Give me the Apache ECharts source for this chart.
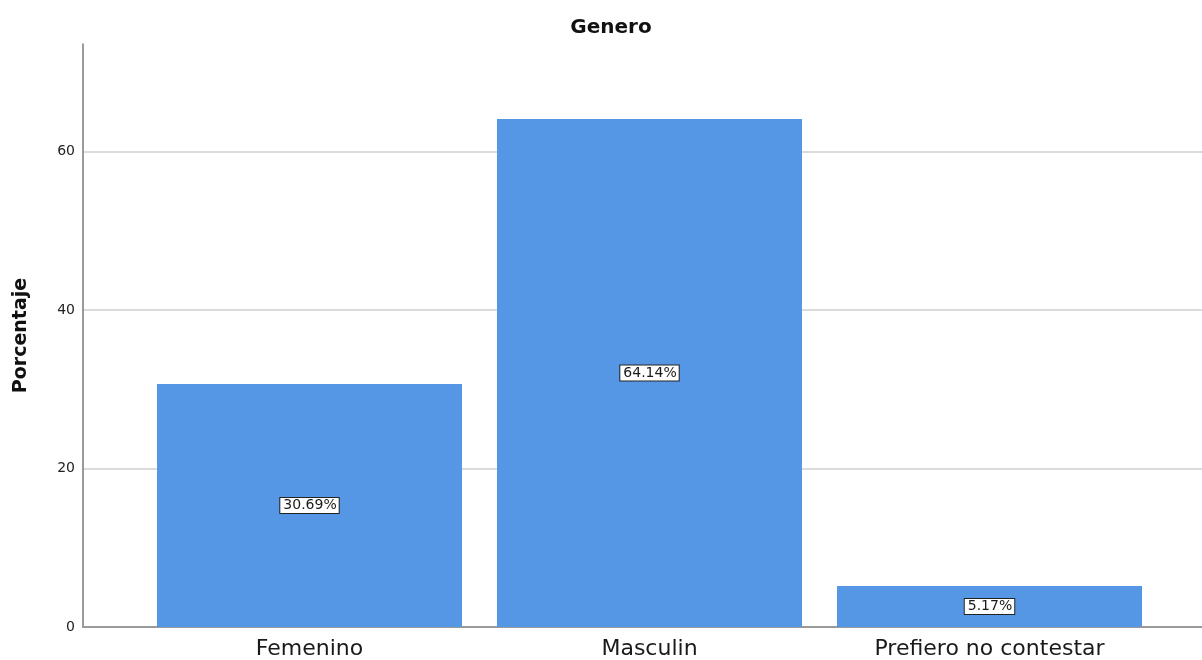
<!DOCTYPE html>
<html>
<head>
<meta charset="utf-8">
<script src="https://cdn.jsdelivr.net/npm/echarts@6/dist/echarts.min.js"></script>
<style>
  html, body { margin: 0; padding: 0; background: #fff; }
  #chart { width: 1202px; height: 660px; }
</style>
</head>
<body>
<div id="chart"></div>
<script>
// Gender breakdown (percent of respondents)
const categories = ['Femenino', 'Masculin', 'Prefiero no contestar'];
const percentages = [30.69, 64.14, 5.17];
const yTicks = [0, 20, 40, 60];

const font = 'DejaVu Sans, Verdana, sans-serif';
const barColor = '#5596e5';

// Bars sit at category index positions 0,1,2 on a numeric x scale
const barData = percentages.map((v, i) => [i, v]);

const chart = echarts.init(document.getElementById('chart'), null, { renderer: 'canvas' });
chart.setOption({
  animation: false,
  backgroundColor: '#ffffff',
  title: {
    text: 'Genero',
    left: 606,
    top: 13,
    textAlign: 'center',
    textStyle: { fontFamily: font, fontSize: 20, fontWeight: 'bold', color: '#111' }
  },
  grid: { left: 83, right: 0, top: 44, bottom: 28, containLabel: false },
  xAxis: {
    type: 'value',
    min: -0.6662,
    max: 2.625,
    splitLine: { show: false },
    axisTick: { show: false },
    axisLine: { show: true, lineStyle: { color: '#9a9a9a', width: 2 } },
    axisLabel: {
      customValues: categories.map((_, i) => i),
      formatter: v => categories[Math.round(v)] || '',
      margin: 11,
      fontFamily: font,
      fontSize: 22,
      color: '#1a1a1a'
    }
  },
  yAxis: {
    type: 'value',
    min: 0,
    max: 73.6,
    interval: 20,
    name: 'Porcentaje',
    nameLocation: 'middle',
    nameGap: 52,
    nameTextStyle: { fontFamily: font, fontSize: 19, fontWeight: 'bold', color: '#111' },
    axisLine: { show: true, onZero: false, lineStyle: { color: '#7a7a7a', width: 1.5 } },
    axisTick: { show: false },
    axisLabel: {
      customValues: yTicks,
      margin: 8,
      fontFamily: font,
      fontSize: 14,
      color: '#222'
    },
    splitLine: {
      show: true,
      showMinLine: false,
      showMaxLine: false,
      lineStyle: { color: '#cfcfcf', width: 1.5 }
    }
  },
  series: [{
    type: 'bar',
    data: barData,
    barWidth: 305,
    itemStyle: { color: barColor },
    label: {
      show: true,
      position: 'inside',
      formatter: p => p.value[1].toFixed(2) + '%',
      fontFamily: font,
      fontSize: 14,
      color: '#1a1a1a',
      backgroundColor: '#ffffff',
      borderColor: '#222',
      borderWidth: 1,
      padding: [1, 2, 0, 3]
    }
  }]
});
</script>
</body>
</html>
